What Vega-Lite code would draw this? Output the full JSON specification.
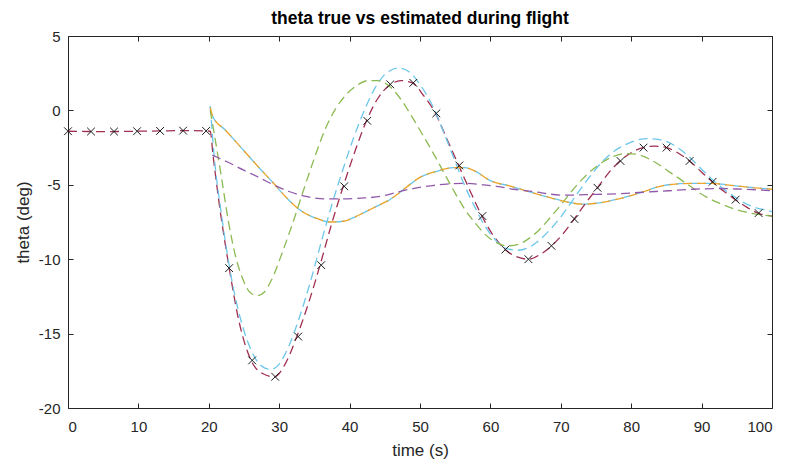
{
  "$schema": "https://vega.github.io/schema/vega-lite/v6.json",
  "width": 704,
  "height": 372,
  "autosize": "none",
  "padding": {"left": 68, "top": 36, "right": 20, "bottom": 59},
  "background": "white",
  "config": {
    "view": {"stroke": null},
    "font": "Liberation Sans",
    "axis": {"labelFont": "Liberation Sans", "titleFont": "Liberation Sans", "labelFontSize": 15, "titleFontSize": 17, "labelColor": "#262626", "titleColor": "#262626", "domainColor": "#262626", "tickColor": "#262626", "grid": false, "titleFontWeight": "normal"}
  },
  "title": {"text": "theta true vs estimated during flight", "fontSize": 17.5, "fontWeight": "bold", "font": "Liberation Sans", "color": "#000000", "offset": 2},
  "datasets": {
    "lines": [
      {"s": "true", "t": 0, "v": -1.4}, {"s": "true", "t": 3.27, "v": -1.42}, {"s": "true", "t": 6.55, "v": -1.42}, {"s": "true", "t": 9.82, "v": -1.4}, {"s": "true", "t": 13.1, "v": -1.38}, {"s": "true", "t": 16.4, "v": -1.36}, {"s": "true", "t": 19.6, "v": -1.38}, {"s": "true", "t": 20.2, "v": -1.4},
      {"s": "true", "t": 20.6, "v": -3.0}, {"s": "true", "t": 21.4, "v": -6.0}, {"s": "true", "t": 22.9, "v": -10.6}, {"s": "true", "t": 24.3, "v": -14.2}, {"s": "true", "t": 26.0, "v": -16.8}, {"s": "true", "t": 27.7, "v": -17.7}, {"s": "true", "t": 29.3, "v": -17.9}, {"s": "true", "t": 30.9, "v": -17.0}, {"s": "true", "t": 32.5, "v": -15.2}, {"s": "true", "t": 34.2, "v": -12.9}, {"s": "true", "t": 35.8, "v": -10.4}, {"s": "true", "t": 37.4, "v": -7.7}, {"s": "true", "t": 39.1, "v": -5.1}, {"s": "true", "t": 40.8, "v": -2.7}, {"s": "true", "t": 42.4, "v": -0.7}, {"s": "true", "t": 44.0, "v": 0.8}, {"s": "true", "t": 45.7, "v": 1.7}, {"s": "true", "t": 47.3, "v": 2.0}, {"s": "true", "t": 48.9, "v": 1.85}, {"s": "true", "t": 50.5, "v": 1.0}, {"s": "true", "t": 52.2, "v": -0.2}, {"s": "true", "t": 53.8, "v": -1.9}, {"s": "true", "t": 55.5, "v": -3.7}, {"s": "true", "t": 57.2, "v": -5.5}, {"s": "true", "t": 58.8, "v": -7.1}, {"s": "true", "t": 60.4, "v": -8.4}, {"s": "true", "t": 62.1, "v": -9.35}, {"s": "true", "t": 63.8, "v": -9.85}, {"s": "true", "t": 65.4, "v": -10.0}, {"s": "true", "t": 67.0, "v": -9.7}, {"s": "true", "t": 68.7, "v": -9.1}, {"s": "true", "t": 70.3, "v": -8.3}, {"s": "true", "t": 71.9, "v": -7.3}, {"s": "true", "t": 73.5, "v": -6.25}, {"s": "true", "t": 75.2, "v": -5.2}, {"s": "true", "t": 76.8, "v": -4.2}, {"s": "true", "t": 78.4, "v": -3.4}, {"s": "true", "t": 80.0, "v": -2.85}, {"s": "true", "t": 81.7, "v": -2.5}, {"s": "true", "t": 83.3, "v": -2.4}, {"s": "true", "t": 85.0, "v": -2.5}, {"s": "true", "t": 86.6, "v": -2.85}, {"s": "true", "t": 88.3, "v": -3.4}, {"s": "true", "t": 89.9, "v": -4.1}, {"s": "true", "t": 91.5, "v": -4.8}, {"s": "true", "t": 93.2, "v": -5.45}, {"s": "true", "t": 94.8, "v": -6.0}, {"s": "true", "t": 96.4, "v": -6.5}, {"s": "true", "t": 98.0, "v": -6.9}, {"s": "true", "t": 100, "v": -7.1},

      {"s": "est1", "t": 20.2, "v": 0.3}, {"s": "est1", "t": 20.75, "v": -3.0}, {"s": "est1", "t": 21.8, "v": -7.0}, {"s": "est1", "t": 23.3, "v": -11.5}, {"s": "est1", "t": 24.8, "v": -14.5}, {"s": "est1", "t": 26.3, "v": -16.4}, {"s": "est1", "t": 27.9, "v": -17.3}, {"s": "est1", "t": 28.9, "v": -17.4}, {"s": "est1", "t": 29.9, "v": -17.1}, {"s": "est1", "t": 31.4, "v": -15.8}, {"s": "est1", "t": 32.95, "v": -13.8}, {"s": "est1", "t": 34.5, "v": -11.4}, {"s": "est1", "t": 36.0, "v": -8.8}, {"s": "est1", "t": 37.5, "v": -6.3}, {"s": "est1", "t": 39.1, "v": -3.9}, {"s": "est1", "t": 40.6, "v": -1.8}, {"s": "est1", "t": 42.1, "v": 0.0}, {"s": "est1", "t": 43.6, "v": 1.5}, {"s": "est1", "t": 45.2, "v": 2.5}, {"s": "est1", "t": 47.0, "v": 2.85}, {"s": "est1", "t": 48.7, "v": 2.5}, {"s": "est1", "t": 50.2, "v": 1.6}, {"s": "est1", "t": 51.8, "v": 0.3}, {"s": "est1", "t": 53.3, "v": -1.4}, {"s": "est1", "t": 54.8, "v": -3.2}, {"s": "est1", "t": 56.3, "v": -5.0}, {"s": "est1", "t": 57.9, "v": -6.6}, {"s": "est1", "t": 59.4, "v": -7.9}, {"s": "est1", "t": 60.9, "v": -8.8}, {"s": "est1", "t": 62.4, "v": -9.3}, {"s": "est1", "t": 64.0, "v": -9.4}, {"s": "est1", "t": 65.5, "v": -9.2}, {"s": "est1", "t": 67.0, "v": -8.7}, {"s": "est1", "t": 68.5, "v": -8.0}, {"s": "est1", "t": 70.1, "v": -7.1}, {"s": "est1", "t": 71.6, "v": -6.1}, {"s": "est1", "t": 73.1, "v": -5.1}, {"s": "est1", "t": 74.7, "v": -4.1}, {"s": "est1", "t": 76.2, "v": -3.3}, {"s": "est1", "t": 77.7, "v": -2.7}, {"s": "est1", "t": 79.2, "v": -2.3}, {"s": "est1", "t": 80.8, "v": -2.0}, {"s": "est1", "t": 82.3, "v": -1.9}, {"s": "est1", "t": 83.8, "v": -1.95}, {"s": "est1", "t": 85.3, "v": -2.15}, {"s": "est1", "t": 86.9, "v": -2.6}, {"s": "est1", "t": 88.4, "v": -3.2}, {"s": "est1", "t": 89.9, "v": -3.9}, {"s": "est1", "t": 91.4, "v": -4.6}, {"s": "est1", "t": 92.9, "v": -5.2}, {"s": "est1", "t": 94.5, "v": -5.75}, {"s": "est1", "t": 96.0, "v": -6.2}, {"s": "est1", "t": 97.5, "v": -6.5}, {"s": "est1", "t": 99.1, "v": -6.7}, {"s": "est1", "t": 100, "v": -6.8},

      {"s": "est2", "t": 20.2, "v": 0.0}, {"s": "est2", "t": 20.75, "v": -1.5}, {"s": "est2", "t": 21.8, "v": -4.5}, {"s": "est2", "t": 22.8, "v": -7.5}, {"s": "est2", "t": 23.8, "v": -9.8}, {"s": "est2", "t": 24.8, "v": -11.3}, {"s": "est2", "t": 25.8, "v": -12.2}, {"s": "est2", "t": 26.9, "v": -12.45}, {"s": "est2", "t": 27.9, "v": -12.2}, {"s": "est2", "t": 28.9, "v": -11.4}, {"s": "est2", "t": 30.4, "v": -9.6}, {"s": "est2", "t": 31.9, "v": -7.6}, {"s": "est2", "t": 33.5, "v": -5.3}, {"s": "est2", "t": 35.0, "v": -3.2}, {"s": "est2", "t": 36.5, "v": -1.3}, {"s": "est2", "t": 38.0, "v": 0.1}, {"s": "est2", "t": 39.6, "v": 1.1}, {"s": "est2", "t": 41.1, "v": 1.7}, {"s": "est2", "t": 42.6, "v": 2.0}, {"s": "est2", "t": 44.1, "v": 2.0}, {"s": "est2", "t": 45.7, "v": 1.6}, {"s": "est2", "t": 47.2, "v": 0.8}, {"s": "est2", "t": 48.7, "v": -0.3}, {"s": "est2", "t": 50.2, "v": -1.5}, {"s": "est2", "t": 51.8, "v": -2.8}, {"s": "est2", "t": 53.3, "v": -4.1}, {"s": "est2", "t": 54.8, "v": -5.4}, {"s": "est2", "t": 56.3, "v": -6.6}, {"s": "est2", "t": 57.9, "v": -7.6}, {"s": "est2", "t": 59.4, "v": -8.4}, {"s": "est2", "t": 60.9, "v": -8.9}, {"s": "est2", "t": 62.4, "v": -9.1}, {"s": "est2", "t": 64.0, "v": -9.0}, {"s": "est2", "t": 65.5, "v": -8.6}, {"s": "est2", "t": 67.0, "v": -8.0}, {"s": "est2", "t": 68.5, "v": -7.2}, {"s": "est2", "t": 70.1, "v": -6.3}, {"s": "est2", "t": 71.6, "v": -5.4}, {"s": "est2", "t": 73.1, "v": -4.6}, {"s": "est2", "t": 74.7, "v": -3.9}, {"s": "est2", "t": 76.2, "v": -3.4}, {"s": "est2", "t": 77.7, "v": -3.05}, {"s": "est2", "t": 79.2, "v": -2.9}, {"s": "est2", "t": 80.8, "v": -2.95}, {"s": "est2", "t": 82.3, "v": -3.2}, {"s": "est2", "t": 83.8, "v": -3.6}, {"s": "est2", "t": 85.3, "v": -4.1}, {"s": "est2", "t": 86.9, "v": -4.6}, {"s": "est2", "t": 88.4, "v": -5.1}, {"s": "est2", "t": 89.9, "v": -5.6}, {"s": "est2", "t": 91.4, "v": -6.0}, {"s": "est2", "t": 92.9, "v": -6.3}, {"s": "est2", "t": 94.5, "v": -6.6}, {"s": "est2", "t": 96.0, "v": -6.8}, {"s": "est2", "t": 97.5, "v": -6.95}, {"s": "est2", "t": 99.1, "v": -7.05}, {"s": "est2", "t": 100, "v": -7.1},

      {"s": "est3", "t": 20.2, "v": 0.2}, {"s": "est3", "t": 20.6, "v": -0.45}, {"s": "est3", "t": 22.3, "v": -1.3}, {"s": "est3", "t": 24.5, "v": -2.45}, {"s": "est3", "t": 26.85, "v": -3.7}, {"s": "est3", "t": 29.2, "v": -4.9}, {"s": "est3", "t": 30.9, "v": -5.8}, {"s": "est3", "t": 32.95, "v": -6.7}, {"s": "est3", "t": 35.0, "v": -7.2}, {"s": "est3", "t": 37.2, "v": -7.5}, {"s": "est3", "t": 39.1, "v": -7.45}, {"s": "est3", "t": 40.6, "v": -7.2}, {"s": "est3", "t": 41.9, "v": -6.9}, {"s": "est3", "t": 43.6, "v": -6.5}, {"s": "est3", "t": 45.7, "v": -6.0}, {"s": "est3", "t": 47.7, "v": -5.3}, {"s": "est3", "t": 50.0, "v": -4.5}, {"s": "est3", "t": 52.3, "v": -4.1}, {"s": "est3", "t": 54.8, "v": -3.85}, {"s": "est3", "t": 56.3, "v": -3.85}, {"s": "est3", "t": 57.9, "v": -4.1}, {"s": "est3", "t": 59.9, "v": -4.7}, {"s": "est3", "t": 62.95, "v": -5.1}, {"s": "est3", "t": 65.7, "v": -5.5}, {"s": "est3", "t": 68.0, "v": -5.8}, {"s": "est3", "t": 70.4, "v": -6.1}, {"s": "est3", "t": 73.1, "v": -6.3}, {"s": "est3", "t": 75.7, "v": -6.2}, {"s": "est3", "t": 77.7, "v": -6.0}, {"s": "est3", "t": 79.4, "v": -5.8}, {"s": "est3", "t": 81.8, "v": -5.45}, {"s": "est3", "t": 84.1, "v": -5.1}, {"s": "est3", "t": 86.3, "v": -4.95}, {"s": "est3", "t": 88.8, "v": -4.9}, {"s": "est3", "t": 91.4, "v": -4.9}, {"s": "est3", "t": 93.5, "v": -5.0}, {"s": "est3", "t": 96.5, "v": -5.15}, {"s": "est3", "t": 100, "v": -5.3},

      {"s": "est4", "t": 20.5, "v": -3.0}, {"s": "est4", "t": 22.8, "v": -3.5}, {"s": "est4", "t": 24.9, "v": -4.0}, {"s": "est4", "t": 27.1, "v": -4.5}, {"s": "est4", "t": 29.2, "v": -5.0}, {"s": "est4", "t": 31.4, "v": -5.45}, {"s": "est4", "t": 34.0, "v": -5.8}, {"s": "est4", "t": 36.5, "v": -5.95}, {"s": "est4", "t": 38.7, "v": -5.95}, {"s": "est4", "t": 41.6, "v": -5.9}, {"s": "est4", "t": 44.7, "v": -5.75}, {"s": "est4", "t": 46.7, "v": -5.5}, {"s": "est4", "t": 49.0, "v": -5.25}, {"s": "est4", "t": 51.8, "v": -5.05}, {"s": "est4", "t": 53.8, "v": -4.95}, {"s": "est4", "t": 56.1, "v": -4.9}, {"s": "est4", "t": 58.9, "v": -5.0}, {"s": "est4", "t": 60.9, "v": -5.1}, {"s": "est4", "t": 63.3, "v": -5.3}, {"s": "est4", "t": 66.0, "v": -5.45}, {"s": "est4", "t": 70.4, "v": -5.7}, {"s": "est4", "t": 74.7, "v": -5.65}, {"s": "est4", "t": 78.2, "v": -5.6}, {"s": "est4", "t": 81.7, "v": -5.5}, {"s": "est4", "t": 85.3, "v": -5.4}, {"s": "est4", "t": 88.8, "v": -5.3}, {"s": "est4", "t": 92.4, "v": -5.25}, {"s": "est4", "t": 95.9, "v": -5.3}, {"s": "est4", "t": 98.5, "v": -5.35}, {"s": "est4", "t": 100, "v": -5.4}
    ],
    "markers": [
      {"t": 0, "v": -1.4}, {"t": 3.27, "v": -1.42}, {"t": 6.54, "v": -1.42}, {"t": 9.81, "v": -1.4}, {"t": 13.08, "v": -1.38}, {"t": 16.35, "v": -1.36}, {"t": 19.62, "v": -1.38},
      {"t": 22.89, "v": -10.6}, {"t": 26.16, "v": -16.8}, {"t": 29.43, "v": -17.9}, {"t": 32.7, "v": -15.2}, {"t": 35.97, "v": -10.4}, {"t": 39.24, "v": -5.1}, {"t": 42.51, "v": -0.7}, {"t": 45.78, "v": 1.75}, {"t": 49.05, "v": 1.85}, {"t": 52.32, "v": -0.2}, {"t": 55.59, "v": -3.7}, {"t": 58.86, "v": -7.1}, {"t": 62.13, "v": -9.35}, {"t": 65.4, "v": -10.0}, {"t": 68.67, "v": -9.1}, {"t": 71.94, "v": -7.3}, {"t": 75.21, "v": -5.2}, {"t": 78.48, "v": -3.4}, {"t": 81.75, "v": -2.5}, {"t": 85.02, "v": -2.5}, {"t": 88.29, "v": -3.4}, {"t": 91.56, "v": -4.8}, {"t": 94.83, "v": -6.0}, {"t": 98.1, "v": -6.9}
    ]
  },
  "resolve": {"axis": {"x": "independent", "y": "independent"}},
  "layer": [
    {
      "data": {"name": "lines"},
      "transform": [{"filter": "datum.s === 'est3'"}],
      "mark": {"type": "line", "interpolate": "monotone", "strokeWidth": 1.3, "strokeDash": [9, 5], "strokeDashOffset": 7, "color": "#6cc6ea", "clip": true},
      "encoding": {
        "x": {"field": "t", "type": "quantitative", "scale": {"domain": [0, 100], "nice": false, "zero": false}, "axis": {"title": "time (s)", "values": [0, 10, 20, 30, 40, 50, 60, 70, 80, 90, 100], "tickSize": -5, "labelPadding": 16, "titlePadding": 8, "domainWidth": 1}},
        "y": {"field": "v", "type": "quantitative", "scale": {"domain": [-20, 5], "nice": false, "zero": false}, "axis": {"title": "theta (deg)", "values": [-20, -15, -10, -5, 0, 5], "labelExpr": "toString(datum.value)", "tickSize": -5, "labelPadding": 13, "titlePadding": 6, "domainWidth": 1}}
      }
    },
    {
      "data": {"name": "lines"},
      "mark": {"type": "line", "interpolate": "monotone", "strokeWidth": 1.3, "strokeDash": [9, 5], "clip": true},
      "encoding": {
        "x": {"field": "t", "type": "quantitative", "axis": {"orient": "top", "labels": false, "title": null, "values": [0, 10, 20, 30, 40, 50, 60, 70, 80, 90, 100], "tickSize": -5, "domainWidth": 1}},
        "y": {"field": "v", "type": "quantitative", "axis": {"orient": "right", "labels": false, "title": null, "values": [-20, -15, -10, -5, 0, 5], "tickSize": -5, "domainWidth": 1}},
        "color": {"field": "s", "type": "nominal", "legend": null, "scale": {"domain": ["true", "est1", "est2", "est3", "est4"], "range": ["#a03050", "#6cc6ea", "#8cba52", "#eba42a", "#9158aa"]}},
        "order": {"field": "t", "type": "quantitative"}
      }
    },
    {
      "data": {"name": "markers"},
      "mark": {"type": "point", "shape": "M-1,-1L1,1M-1,1L1,-1", "size": 60, "filled": false, "stroke": "#1a1a1a", "strokeWidth": 1, "opacity": 1},
      "encoding": {
        "x": {"field": "t", "type": "quantitative", "axis": null},
        "y": {"field": "v", "type": "quantitative", "axis": null}
      }
    }
  ]
}
